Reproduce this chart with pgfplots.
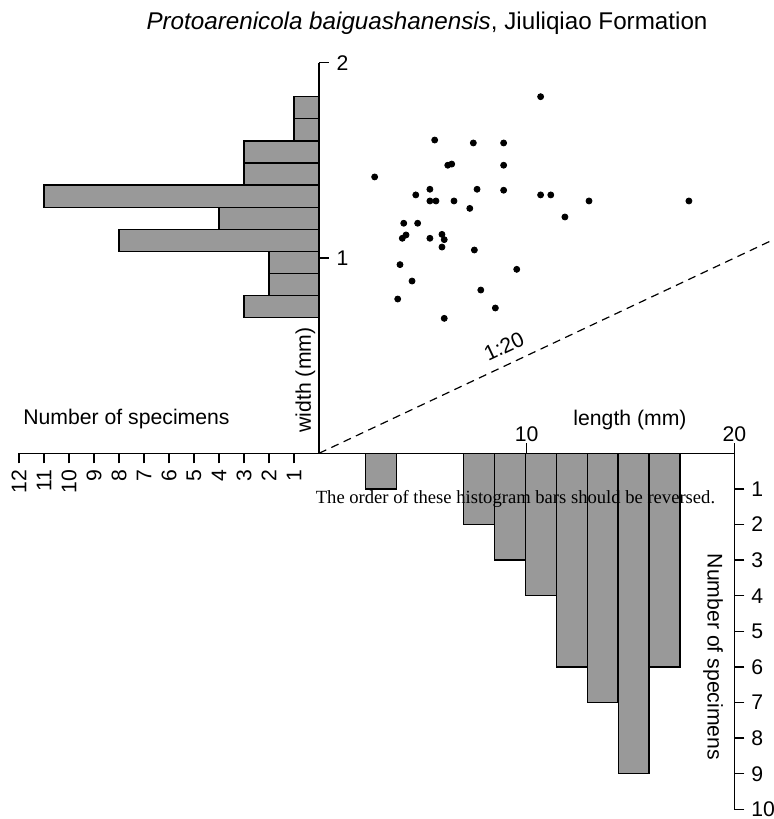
\documentclass[border=0pt]{standalone}
\usepackage{fontspec}
\setmainfont{Liberation Sans}
\newfontfamily\notefont{Liberation Serif}
\usepackage{pgfplots}
\pgfplotsset{compat=1.18}
\definecolor{barfill}{RGB}{153,153,153}

\newcommand\lab{\fontsize{10.6}{12.7}\selectfont}

\pgfplotsset{
  hist/.style={
    scale only axis,
    major tick style={black, line width=0.7pt},
    major tick length=5pt,
    tick label style={font=\lab, inner sep=0pt},
    /pgf/number format/assume math mode=true,
  },
  nolinearrows/.style={
    axis line style={-, line width=0.7pt},
    every outer x axis line/.append style={-},
    every outer y axis line/.append style={-},
  },
}

\begin{document}
\begin{tikzpicture}
\useasboundingbox (-159.5pt,-182.85pt) rectangle (227.5pt,226.65pt);

% width histogram (bars to the left)
\begin{axis}[hist, at={(0,0)}, anchor=south east,
  x=12.5pt, y=97.65pt, xmin=0, xmax=12, ymin=0, ymax=2, x dir=reverse,
  axis x line=bottom, axis y line=none, tick align=outside,
  xtick={1,...,12}, ytick=\empty,
  xticklabel style={rotate=90, anchor=east}, xticklabel shift=3pt,
  xbar, bar width=0.1132, nolinearrows]
\addplot[fill=barfill, draw=black, line width=0.7pt] coordinates {
  (3,0.7506) (2,0.8638) (2,0.9770) (8,1.0902) (4,1.2034)
  (11,1.3166) (3,1.4298) (3,1.5430) (1,1.6562) (1,1.7694)};
\end{axis}

% length histogram (bars downwards)
\begin{axis}[hist, at={(0,0)}, anchor=north west,
  x=10.385pt, y=17.8pt, xmin=0, xmax=20, ymin=0, ymax=10, y dir=reverse,
  axis x line=none, axis y line=right, tick align=outside,
  ytick={1,...,10}, xtick=\empty,
  yticklabel style={anchor=west}, yticklabel shift=3.3pt,
  ybar, bar width=1.487, nolinearrows]
\addplot[fill=barfill, draw=black, line width=0.7pt] coordinates {
  (2.98,1) (7.71,2) (9.20,3) (10.69,4) (12.17,6) (13.66,7) (15.15,9) (16.64,6)};
\end{axis}

% scatter of length vs width
\begin{axis}[hist, at={(0,0)}, anchor=south west,
  x=10.385pt, y=97.65pt, xmin=0, xmax=20, ymin=0, ymax=2,
  axis x line=bottom, axis y line=left, tick align=inside,
  xtick={10,20}, ytick={1,2},
  xticklabel style={anchor=base, yshift=5.8pt},
  yticklabel style={anchor=west, xshift=8.6pt},
  clip=false, nolinearrows]
\addplot[black, line width=0.6pt, dash pattern=on 4pt off 2.8pt] coordinates {(0,0) (21.8,1.09)};
\addplot[only marks, mark=*, mark size=1.5pt, black] table {
x y
2.68 1.415
5.57 1.604
7.43 1.589
8.89 1.589
10.67 1.826
6.20 1.475
6.39 1.481
8.89 1.475
5.34 1.352
7.61 1.352
8.89 1.347
4.66 1.323
5.34 1.292
5.63 1.292
6.50 1.292
7.26 1.254
10.67 1.323
11.16 1.323
13.00 1.292
17.81 1.292
11.84 1.210
4.08 1.178
4.75 1.178
4.01 1.101
4.19 1.118
5.34 1.101
5.92 1.121
6.03 1.094
5.92 1.056
7.48 1.041
3.90 0.966
9.52 0.942
4.48 0.882
7.79 0.836
3.79 0.790
8.49 0.744
6.03 0.691
};
\end{axis}

\node[font=\fontsize{12.1}{14.5}\selectfont, anchor=base, inner sep=0pt] at (54pt,211.65pt)
  {\textit{Protoarenicola baiguashanensis}, Jiuliqiao Formation};
\node[font=\lab, anchor=base, inner sep=0pt] at (-96.25pt,14.65pt) {Number of specimens};
\node[font=\lab, anchor=base, inner sep=0pt] at (155.5pt,14pt) {length (mm)};
\node[font=\lab, rotate=90, inner sep=0pt] at (-6.75pt,36.65pt) {width (mm)};
\node[font=\lab, rotate=-90, inner sep=0pt] at (197pt,-101.85pt) {Number of specimens};
\node[font=\lab, rotate=25.2, inner sep=0pt] at (92.5pt,53.5pt) {1:20};
\node[font=\notefont\fontsize{9.3}{11}\selectfont, anchor=base, inner sep=0pt] at (98.25pt,-25pt)
  {The order of these histogram bars should be reversed.};
\end{tikzpicture}
\end{document}
